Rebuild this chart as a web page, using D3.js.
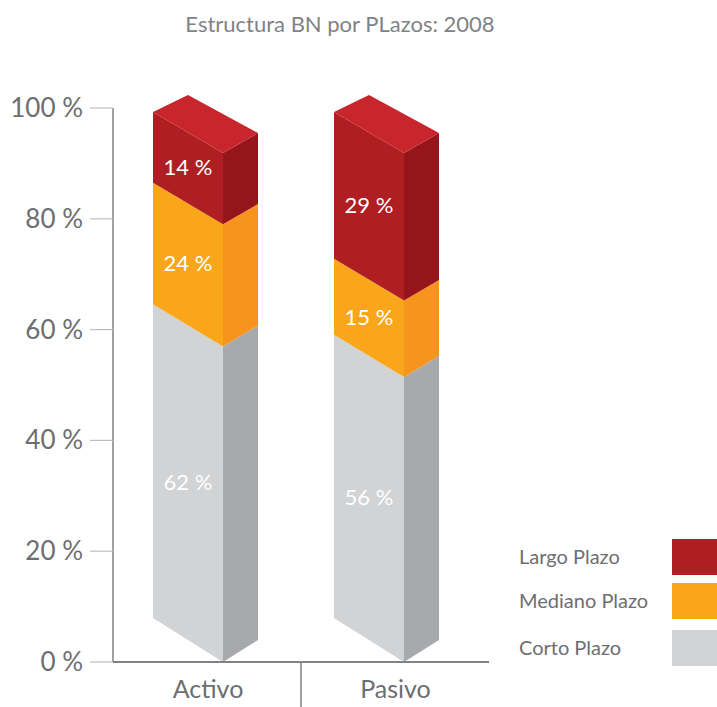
<!DOCTYPE html>
<html>
<head>
<meta charset="utf-8">
<script src="https://cdn.jsdelivr.net/npm/d3@7/dist/d3.min.js"></script>
<style>
html,body{margin:0;padding:0;background:#fff;overflow:hidden}
text{font-family:Lato,"Open Sans",sans-serif}
</style>
</head>
<body>
<svg id="chart" width="717" height="707"></svg>
<script>
const title = "Estructura BN por PLazos: 2008";
const categories = ["Activo", "Pasivo"];
const seriesNames = ["Corto Plazo", "Mediano Plazo", "Largo Plazo"];
const activoValues = [62, 24, 14];
const pasivoValues = [56, 15, 29];
const axisTicks = [0, 20, 40, 60, 80, 100];

const frontColors = ["#D1D3D4", "#FAA61A", "#AF1E23"];
const sideColors = ["#A7A9AC", "#F7941E", "#96151A"];
const topColor = "#C9252C";
const inkColor = "#6D6E71";
const ruleColor = "#808285";
const tickColor = "#BCBEC0";

const svg = d3.select("#chart");

// The vertical axis spans a taller range than the prisms, which are foreshortened.
const axisY = d3.scaleLinear().domain([0, 100]).range([662, 108]);
// One scale per vertical edge of a prism: left, front and right.
const leftY = d3.scaleLinear().domain([0, 100]).range([618, 112]);
const frontY = d3.scaleLinear().domain([0, 100]).range([662, 153]);
const rightY = d3.scaleLinear().domain([0, 100]).range([640, 133]);
const capBackY = 95;

// Horizontal placement of each prism's front edge; faces extend either side of it.
const frontX = d3.scalePoint().domain(categories).range([223, 404]);
const labelX = d3.scalePoint().domain(categories).range([208, 395.5]);
const leftRun = 70;
const rightRun = 35;

const columns = [activoValues, pasivoValues];
const line = d3.line();

columns.forEach((values, c) => {
  const x0 = frontX(categories[c]);
  const xl = x0 - leftRun, xr = x0 + rightRun;
  const g = svg.append("g");
  let base = 0;
  const spans = values.map(v => {
    const s = {from: base, to: base + v, value: v};
    base += v;
    return s;
  });

  g.selectAll("path.front").data(spans).join("path")
    .attr("class", "front")
    .attr("fill", (d, i) => frontColors[i])
    .attr("d", d => line([
      [xl, leftY(d.from)], [x0, frontY(d.from)],
      [x0, frontY(d.to)], [xl, leftY(d.to)]
    ]) + "Z");

  g.selectAll("path.side").data(spans).join("path")
    .attr("class", "side")
    .attr("fill", (d, i) => sideColors[i])
    .attr("d", d => line([
      [x0, frontY(d.from)], [xr, rightY(d.from)],
      [xr, rightY(d.to)], [x0, frontY(d.to)]
    ]) + "Z");

  // Top cap of the prism
  g.append("path")
    .attr("fill", topColor)
    .attr("d", line([
      [xl, leftY(100)], [x0, frontY(100)],
      [xr, rightY(100)], [xr - leftRun, capBackY]
    ]) + "Z");

  g.selectAll("text.pct").data(spans).join("text")
    .attr("class", "pct")
    .attr("x", (xl + x0) / 2)
    .attr("y", d => (leftY(d.from) + leftY(d.to) + frontY(d.from) + frontY(d.to)) / 4 + 7)
    .attr("text-anchor", "middle")
    .attr("fill", "#fff")
    .attr("font-size", 22)
    .text(d => d.value + " %");
});

// Vertical axis with its tick marks and labels
svg.append("line")
  .attr("x1", 113).attr("x2", 113)
  .attr("y1", axisY(100)).attr("y2", axisY(0))
  .attr("stroke", ruleColor).attr("stroke-width", 1.5);

const ticks = svg.append("g").selectAll("g").data(axisTicks).join("g");
ticks.append("line")
  .attr("x1", 90).attr("x2", 113)
  .attr("y1", d => axisY(d)).attr("y2", d => axisY(d))
  .attr("stroke", tickColor).attr("stroke-width", 1.2);
ticks.append("text")
  .attr("x", 83)
  .attr("y", d => axisY(d) + 9)
  .attr("text-anchor", "end")
  .attr("fill", inkColor)
  .attr("font-size", 26)
  .text(d => d + " %");

// Horizontal baseline, divider and category names
svg.append("line")
  .attr("x1", 113).attr("x2", 489)
  .attr("y1", 662).attr("y2", 662)
  .attr("stroke", ruleColor).attr("stroke-width", 2);
svg.append("line")
  .attr("x1", 301).attr("x2", 301)
  .attr("y1", 662).attr("y2", 707)
  .attr("stroke", ruleColor).attr("stroke-width", 1.5);

svg.append("g").selectAll("text").data(categories).join("text")
  .attr("x", d => labelX(d))
  .attr("y", 698)
  .attr("text-anchor", "middle")
  .attr("fill", inkColor)
  .attr("font-size", 25)
  .text(d => d);

svg.append("text")
  .attr("x", 340).attr("y", 32)
  .attr("text-anchor", "middle")
  .attr("fill", "#808285")
  .attr("font-size", 22)
  .text(title);

// Legend, listed from the top segment downwards
const legendRows = [
  {i: 2, y: 539, h: 36},
  {i: 1, y: 583, h: 36},
  {i: 0, y: 630, h: 36}
];
const legend = svg.append("g").selectAll("g").data(legendRows).join("g");
legend.append("rect")
  .attr("x", 672).attr("width", 45)
  .attr("y", d => d.y).attr("height", d => d.h)
  .attr("fill", d => frontColors[d.i]);
legend.append("text")
  .attr("x", 519)
  .attr("y", d => d.y + 25)
  .attr("fill", inkColor)
  .attr("font-size", 20)
  .text(d => seriesNames[d.i]);
</script>
</body>
</html>
